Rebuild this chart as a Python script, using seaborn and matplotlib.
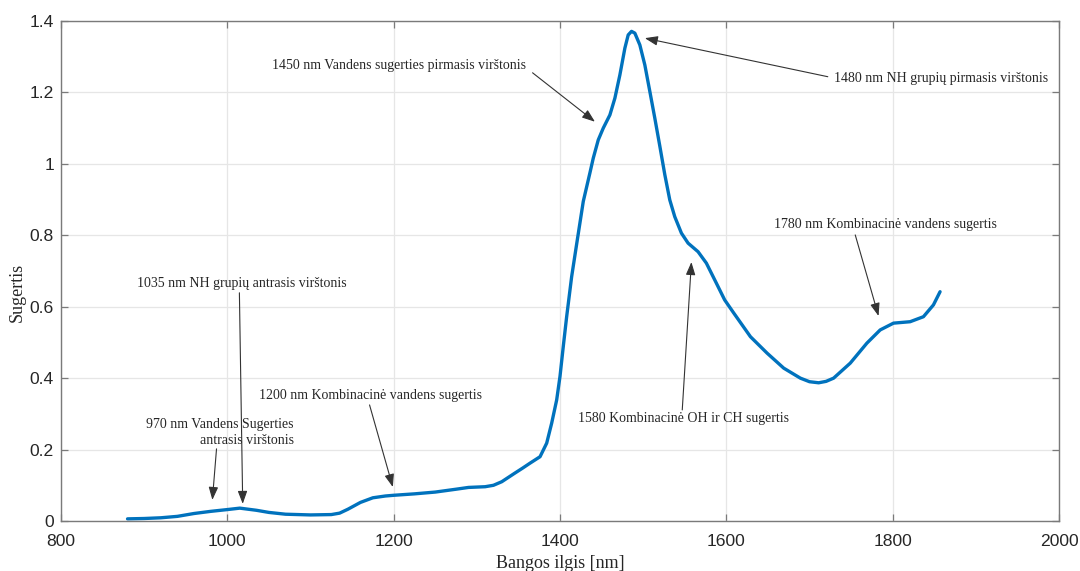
import matplotlib
matplotlib.use("Agg")
import matplotlib.pyplot as plt
import seaborn as sns
import pandas as pd

# Absorption spectrum: wavelength [nm] and absorbance
wavelength = [880, 900, 920, 940, 960, 980, 1000, 1015, 1035, 1050, 1070, 1100,
              1125, 1135, 1145, 1160, 1175, 1190, 1200, 1225, 1250, 1275, 1290,
              1310, 1320, 1330, 1345, 1355, 1364, 1376, 1384, 1390, 1396, 1400,
              1404, 1408, 1414, 1420, 1424, 1428, 1436, 1440, 1446, 1452, 1460,
              1466, 1472, 1478, 1482, 1486, 1490, 1496, 1502, 1508, 1514, 1520,
              1526, 1532, 1538, 1546, 1554, 1566, 1576, 1588, 1598, 1609, 1629,
              1649, 1669, 1689, 1700, 1711, 1720, 1729, 1749, 1769, 1785, 1801,
              1821, 1837, 1849, 1857]
absorbance = [0.006, 0.007, 0.009, 0.013, 0.021, 0.027, 0.032, 0.036, 0.030, 0.024,
              0.019, 0.017, 0.018, 0.022, 0.033, 0.052, 0.065, 0.070, 0.072, 0.076,
              0.081, 0.089, 0.094, 0.096, 0.100, 0.110, 0.133, 0.148, 0.162, 0.180,
              0.218, 0.274, 0.339, 0.405, 0.490, 0.572, 0.684, 0.775, 0.835, 0.895,
              0.975, 1.016, 1.067, 1.100, 1.137, 1.184, 1.249, 1.324, 1.361, 1.371,
              1.366, 1.333, 1.277, 1.203, 1.128, 1.050, 0.970, 0.899, 0.852, 0.806,
              0.778, 0.754, 0.722, 0.666, 0.619, 0.582, 0.516, 0.470, 0.428, 0.400,
              0.390, 0.387, 0.391, 0.400, 0.442, 0.498, 0.535, 0.554, 0.558, 0.572,
              0.605, 0.642]

# Band labels: text, text anchor (x, y), arrow tail, arrow head
label_texts = [
    "1450 nm Vandens sugerties pirmasis virštonis",
    "1480 nm NH grupių pirmasis virštonis",
    "1780 nm Kombinacinė vandens sugertis",
    "1580 Kombinacinė OH ir CH sugertis",
    "1200 nm Kombinacinė vandens sugertis",
    "970 nm Vandens Sugerties\nantrasis virštonis",
    "1035 nm NH grupių antrasis virštonis",
]
label_x = [1207, 1858, 1791, 1549, 1172, 1080, 1017]
label_y = [1.275, 1.240, 0.829, 0.286, 0.350, 0.248, 0.664]
label_ha = ["center", "center", "center", "center", "center", "right", "center"]
tail_x = [1367, 1722, 1755, 1547, 1171, 987, 1014.5]
tail_y = [1.255, 1.244, 0.801, 0.311, 0.325, 0.202, 0.639]
head_x = [1442, 1502, 1783, 1558, 1199, 982, 1018.5]
head_y = [1.118, 1.352, 0.574, 0.725, 0.095, 0.059, 0.048]

x_ticks = [800, 1000, 1200, 1400, 1600, 1800, 2000]
y_ticks = [0, 0.2, 0.4, 0.6, 0.8, 1.0, 1.2, 1.4]
y_tick_labels = ["0", "0.2", "0.4", "0.6", "0.8", "1", "1.2", "1.4"]

sns.set_theme(style="whitegrid")
plt.rcParams["font.family"] = ["Liberation Sans", "DejaVu Sans"]

fig = plt.figure(figsize=(10.8, 5.71), dpi=100)
ax = fig.add_axes([61 / 1080, 1 - 521 / 571, 998 / 1080, 500 / 571])

df = pd.DataFrame({"wavelength": wavelength, "absorbance": absorbance})
sns.lineplot(data=df, x="wavelength", y="absorbance", ax=ax,
             color="#0072BD", linewidth=2.4, estimator=None, sort=False,
             solid_joinstyle="round", solid_capstyle="round")

ax.set_xlim(800, 2000)
ax.set_ylim(0, 1.4)
ax.set_xticks(x_ticks)
ax.set_yticks(y_ticks)
ax.set_yticklabels(y_tick_labels)

ax.grid(True, color="#e6e6e6", linewidth=0.9)
ax.set_facecolor("white")
for s in ax.spines.values():
    s.set_visible(True)
    s.set_color("#7a7a7a")
    s.set_linewidth(1.0)

ax.tick_params(axis="both", which="both", direction="in", length=5, width=0.9,
               color="#7a7a7a", labelsize=12.6, labelcolor="#262626",
               top=True, right=True, bottom=True, left=True)
ax.tick_params(axis="x", pad=9)
ax.tick_params(axis="y", pad=5)

serif = ["Liberation Serif", "DejaVu Serif"]
ax.set_xlabel("Bangos ilgis [nm]", fontsize=13, family=serif, color="#262626")
ax.set_ylabel("Sugertis", fontsize=13, family=serif, color="#262626")
ax.xaxis.set_label_coords(0.5, -0.068)
ax.yaxis.set_label_coords(-0.035, 0.458)

for txt, tx, ty, ha, ax0, ay0, ax1, ay1 in zip(label_texts, label_x, label_y, label_ha,
                                               tail_x, tail_y, head_x, head_y):
    ax.text(tx, ty, txt, ha=ha, va="center", multialignment=ha,
            fontsize=10, family=serif, color="#262626", linespacing=1.25)
    ax.annotate("", xy=(ax1, ay1), xytext=(ax0, ay0),
                arrowprops=dict(arrowstyle="-|>,head_length=0.65,head_width=0.24",
                                color="#333333", lw=0.8, shrinkA=0, shrinkB=0))

fig.savefig("out.png", dpi=100, facecolor="white")
